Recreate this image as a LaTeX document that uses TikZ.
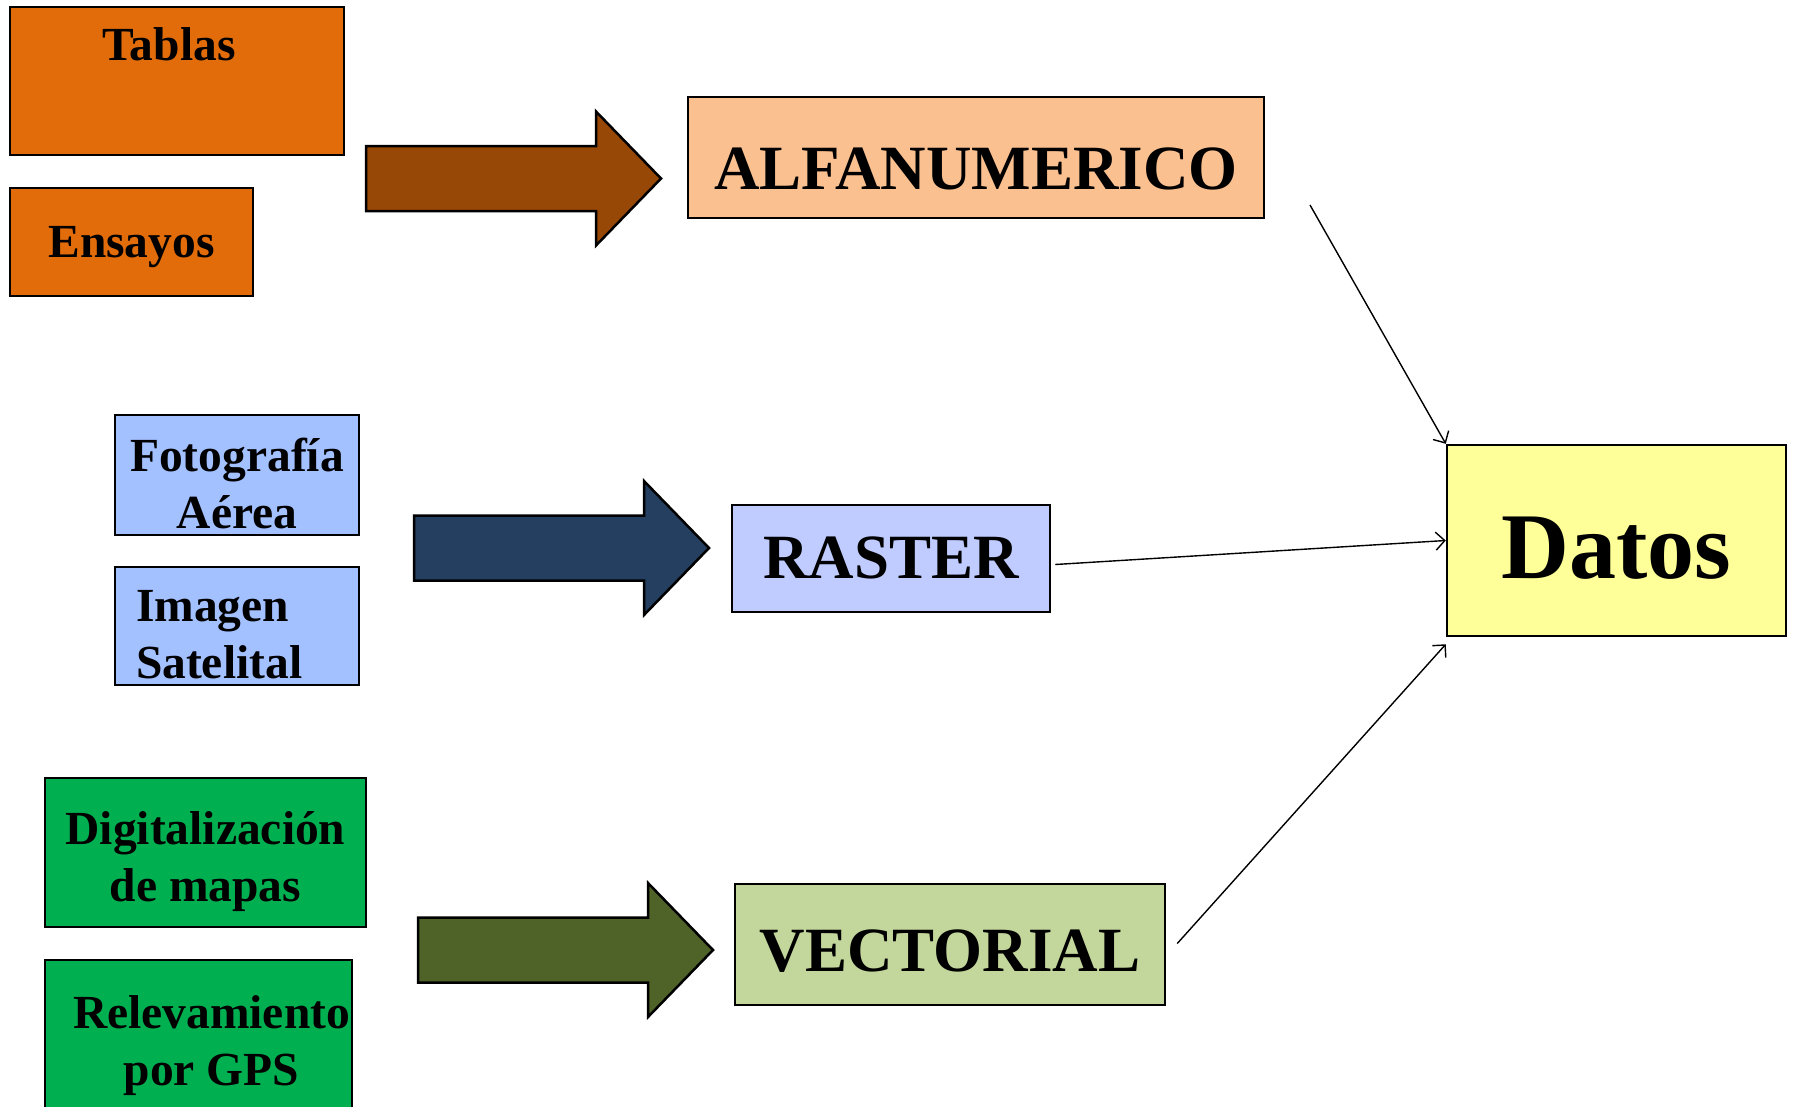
\documentclass[tikz,border=0pt]{standalone}
\usepackage{fontspec}
\setmainfont{Liberation Serif}
\usepackage{xcolor}
\usetikzlibrary{arrows.meta}

\definecolor{naranja}{HTML}{E36C0A}
\definecolor{marron}{HTML}{974806}
\definecolor{salmon}{HTML}{FAC090}
\definecolor{celeste}{HTML}{A3C0FF}
\definecolor{lavanda}{HTML}{C0CCFF}
\definecolor{azul}{HTML}{243F60}
\definecolor{verde}{HTML}{00B050}
\definecolor{oliva}{HTML}{4F6228}
\definecolor{pasto}{HTML}{C3D69B}
\definecolor{amarillo}{HTML}{FFFF99}

% block arrow: colour, tail x, centre y
\newcommand{\bigarrow}[3]{%
  \draw[blockarrow, fill=#1] (#2,#3-32.5) -- ++(230,0) -- ++(0,-34.5)
    -- ++(65,67) -- ++(-65,67) -- ++(0,-34.5) -- ++(-230,0) -- cycle;}

\begin{document}
\begin{tikzpicture}[x=1pt, y=-1pt,
    box/.style={draw, line width=2.5pt, inner sep=0pt, align=center,
      font=\bfseries\fontsize{47.5}{57}\selectfont},
    bigbox/.style={box, font=\bfseries\fontsize{63}{70}\selectfont},
    lbl/.style={inner sep=0pt, align=center, anchor=base,
      font=\bfseries\fontsize{47.5}{57}\selectfont},
    tb/.style 2 args={text height=#1pt, text depth=#2pt},
    blockarrow/.style={draw, line width=2.5pt, line join=miter},
    conn/.style={line width=1.4pt, -{Straight Barb[length=9pt, width=18pt]}}]
  \useasboundingbox (0,0) rectangle (1793,1106);

  % Draw source boxes
  \node[box, fill=naranja, minimum width=334, minimum height=148,
    label={[lbl, xshift=-8pt, yshift=-54.7pt]north:Tablas}]
    (tablas) at (177,81) {};
  \node[box, fill=naranja, minimum width=243, minimum height=108, tb={50}{20}] (ensayos) at (131.5,242) {Ensayos};

  \node[box, fill=celeste, minimum width=244, minimum height=120, tb={111}{5}] (foto) at (237,475) {Fotografía\\Aérea};
  \node[box, fill=celeste, minimum width=244, minimum height=118, tb={50}{59},
    inner xsep=21pt, text width=202pt, align=left] (imagen) at (237,626) {Imagen\\Satelital};

  \node[box, fill=verde, minimum width=321, minimum height=149, tb={118.4}{20}] (digit) at (205.5,852.5) {Digitalización\\de mapas};
  \node[box, fill=verde, minimum width=307, minimum height=170,
    label={[lbl, xshift=13pt, yshift=-126.7pt]north:Relevamiento\\por GPS}]
    (relev) at (198.5,1045) {};

  % Draw type boxes
  \node[bigbox, fill=salmon, minimum width=576, minimum height=121, tb={80}{17}] (alfa) at (976,157.5) {ALFANUMERICO};
  \node[bigbox, fill=lavanda, minimum width=318, minimum height=107, tb={65}{26}] (raster) at (891,558.5) {RASTER};
  \node[bigbox, fill=pasto, minimum width=430, minimum height=121, tb={80}{26}] (vector) at (950,944.5) {VECTORIAL};

  \node[box, fill=amarillo, minimum width=339, minimum height=191, tb={110}{35},
    font=\bfseries\fontsize{94}{100}\selectfont] (datos) at (1616.5,540.5) {Datos};

  % Draw block arrows
  \bigarrow{marron}{366}{178.5}
  \bigarrow{azul}{414}{548}
  \bigarrow{oliva}{418}{950}

  % Connect types with Datos
  \coordinate (alfaout) at (1310,205);
  \draw[conn] (alfaout) -- (datos.north west);
  \draw[conn] ([xshift=4pt, yshift=-6pt]raster.east) -- (datos.west);
  \draw[conn] ([xshift=11pt, yshift=1pt]vector.east) -- ([yshift=-7pt]datos.south west);
\end{tikzpicture}
\end{document}
